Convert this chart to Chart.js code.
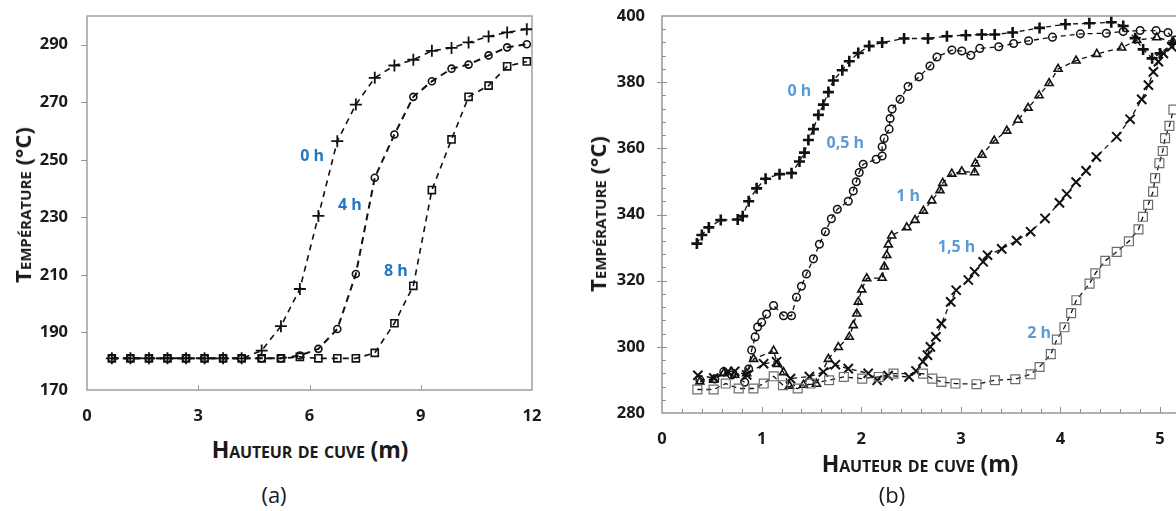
<!DOCTYPE html>
<html>
<head>
<meta charset="utf-8">
<script src="https://cdn.jsdelivr.net/npm/chart.js@4.4.1/dist/chart.umd.min.js"></script>
<style>
  html, body { margin: 0; padding: 0; background: #fff; width: 1176px; height: 511px; overflow: hidden; }
  body { position: relative; font-family: 'Open Sans', sans-serif; color: #1a1a1a; }
  canvas { position: absolute; top: 0; }
  #chartA { left: 0; }
  #chartB { left: 600px; }
  .ttl { position: absolute; font-weight: bold; font-size: 22px; font-variant: small-caps; white-space: nowrap; transform: translate(-50%, -50%); }
  .ttl.xt { font-size: 23px; letter-spacing: -0.2px; }
  .ttl .n { font-variant: normal; }
  .ttl.rot { transform: translate(-50%, -50%) rotate(-90deg); }
  .cap { position: absolute; font-size: 22px; transform: translate(-50%, -50%); }
</style>
</head>
<body>
<canvas id="chartA" width="560" height="430"></canvas>
<canvas id="chartB" width="600" height="450"></canvas>

<div class="ttl rot" style="left:22px; top:205px;">Température (°C)</div>
<div class="ttl xt" style="left:310px; top:449px;">Hauteur de cuve <span class="n">(m)</span></div>
<div class="ttl rot" style="left:597px; top:214px;">Température (°C)</div>
<div class="ttl xt" style="left:920px; top:463px;">Hauteur de cuve <span class="n">(m)</span></div>
<div class="cap" style="left:274px; top:494px;">(a)</div>
<div class="cap" style="left:892px; top:494px;">(b)</div>

<script>
// ---- chart (a) data ----
const hauteurA = [0.67, 1.17, 1.67, 2.17, 2.67, 3.17, 3.67, 4.17, 4.71, 5.23, 5.74, 6.24, 6.75, 7.25, 7.76, 8.29, 8.80, 9.30, 9.83, 10.29, 10.83, 11.33, 11.86];
const temp0hA = [181, 181, 181, 181, 181, 181, 181, 181, 183.7, 192.2, 205.1, 230.5, 256.5, 269.2, 278.5, 282.8, 284.8, 287.9, 288.9, 290.8, 292.9, 294.3, 295.4];
const temp4hA = [181, 181, 181, 181, 181, 181, 181, 181, 181, 181, 182, 184.3, 191.2, 210.3, 243.8, 258.8, 271.9, 277.3, 281.7, 283.1, 286.3, 289.1, 290.2];
const temp8hA = [181, 181, 181, 181, 181, 181, 181, 181, 181, 181, 181.5, 181, 181, 181, 182.9, 193.2, 206.2, 239.5, 257.1, 271.9, 275.8, 282.5, 284.2];
const xTicksA = [0, 3, 6, 9, 12];
const yTicksA = [170, 190, 210, 230, 250, 270, 290];

// ---- chart (b) data ----
const h0hB = [0.35, 0.40, 0.47, 0.59, 0.76, 0.81, 0.87, 0.95, 1.04, 1.18, 1.30, 1.38, 1.43, 1.47, 1.52, 1.57, 1.62, 1.67, 1.72, 1.81, 1.88, 1.97, 2.08, 2.21, 2.43, 2.67, 2.86, 3.05, 3.21, 3.34, 3.52, 3.79, 4.05, 4.29, 4.51, 4.63, 4.75, 4.83, 4.92, 5.00, 5.13];
const t0hB = [331.2, 333.8, 336.1, 338.3, 338.5, 339.5, 344, 347.9, 350.8, 352.2, 352.5, 356, 358.7, 362.5, 365.8, 370.1, 373.2, 377, 380.5, 383.6, 386.3, 388.8, 390.9, 392, 393.2, 393.2, 393.9, 394.2, 394.4, 394.4, 395, 396.4, 397.5, 397.8, 398.1, 397, 393.3, 389.9, 387.2, 388.7, 391.8];

const h05hB = [0.38, 0.53, 0.62, 0.70, 0.83, 0.87, 0.90, 0.935, 0.96, 1.00, 1.05, 1.12, 1.22, 1.30, 1.35, 1.40, 1.45, 1.52, 1.58, 1.64, 1.70, 1.76, 1.87, 1.92, 1.95, 1.98, 2.02, 2.15, 2.21, 2.21, 2.23, 2.28, 2.29, 2.31, 2.39, 2.47, 2.58, 2.69, 2.76, 2.91, 3.01, 3.10, 3.19, 3.38, 3.53, 3.68, 3.92, 4.20, 4.46, 4.63, 4.80, 4.96, 5.08, 5.15];
const t05hB = [290, 290.3, 292.5, 291.5, 289.3, 293.3, 299, 303, 306, 307.4, 309.9, 312.5, 309.4, 309.4, 315, 318.3, 322, 326.6, 331, 334.8, 338.7, 341.6, 344, 347.1, 349.9, 352.7, 355.2, 356.7, 357.7, 360.5, 363, 365.8, 369, 371.9, 374.8, 378.7, 381.6, 384.9, 387.6, 389.7, 389.4, 388.1, 390.2, 390.7, 391.7, 392.5, 393.6, 394.6, 394.8, 395.3, 395.6, 395.6, 395, 392.7];

const h1hB = [0.38, 0.52, 0.62, 0.73, 0.85, 0.92, 1.12, 1.16, 1.22, 1.28, 1.42, 1.55, 1.67, 1.77, 1.88, 1.92, 1.955, 1.97, 2.005, 2.055, 2.21, 2.232, 2.256, 2.272, 2.306, 2.457, 2.54, 2.624, 2.708, 2.79, 2.818, 2.909, 3.009, 3.138, 3.146, 3.212, 3.335, 3.461, 3.574, 3.675, 3.785, 3.886, 3.976, 4.157, 4.364, 4.615, 4.766, 4.967, 5.13];
const t1hB = [289.5, 290, 292, 291.5, 292, 296.3, 298.8, 294.8, 292.3, 288.2, 288.5, 288.8, 296.3, 299.9, 303, 306.5, 310, 313.6, 317.3, 320.7, 320.8, 324.2, 327.7, 330.9, 333.6, 336.1, 338.3, 341.1, 344.2, 347.3, 349.5, 352.3, 353, 352.7, 355.4, 358, 362.3, 365.3, 368.6, 372.2, 376, 379.7, 384, 386.5, 388.5, 390.4, 392.7, 393.5, 392.2];

const h15hB = [0.36, 0.52, 0.66, 0.73, 0.85, 1.02, 1.15, 1.29, 1.48, 1.62, 1.74, 1.87, 2.07, 2.16, 2.27, 2.48, 2.55, 2.62, 2.665, 2.694, 2.75, 2.805, 2.898, 2.953, 3.075, 3.138, 3.224, 3.268, 3.41, 3.56, 3.70, 3.845, 3.99, 4.063, 4.157, 4.257, 4.36, 4.565, 4.699, 4.816, 4.883, 4.933, 4.983, 5.033, 5.117];
const t15hB = [291.4, 290.6, 292.5, 292.6, 291.5, 294.9, 295.5, 290.4, 291, 292.4, 294.6, 293.4, 292, 289.9, 291.3, 290.9, 292.7, 295.5, 297.5, 300, 303, 307, 313.6, 317.1, 320.2, 322.7, 325.7, 327.7, 329.6, 332.1, 334.8, 338.8, 343.5, 346.2, 349.8, 353.2, 357.4, 363.5, 368.8, 374.8, 379.1, 383.1, 386.2, 388.7, 390.7];

const h2hB = [0.355, 0.518, 0.64, 0.77, 0.918, 1.021, 1.121, 1.214, 1.362, 1.491, 1.677, 1.825, 2.01, 2.176, 2.324, 2.62, 2.713, 2.805, 2.946, 3.157, 3.342, 3.546, 3.70, 3.79, 3.903, 3.964, 4.04, 4.107, 4.16, 4.292, 4.35, 4.45, 4.565, 4.687, 4.783, 4.828, 4.88, 4.93, 4.95, 4.993, 5.027, 5.05, 5.094, 5.134];
const t2hB = [287.1, 287.1, 288.9, 287.4, 287.4, 288.9, 291.1, 288.4, 287.4, 288.9, 289.9, 290.9, 290.4, 290.9, 291.9, 291.9, 290.4, 289.4, 288.9, 288.7, 289.9, 290.2, 291.7, 293.9, 297.8, 302.2, 305.9, 310.2, 314.1, 319.1, 322.2, 326, 328.7, 331.9, 335.5, 339.3, 342.9, 346.9, 351, 355.5, 359.2, 363.1, 366.8, 371.7];

const xTicksB = [0, 1, 2, 3, 4, 5];
const yTicksB = [280, 300, 320, 340, 360, 380, 400];

function pairs(xs, ys) {
    return xs.map((v, i) => ({ x: v, y: ys[i] }));
}

function range(from, to, step) {
    const out = [];
    for (let v = from; v <= to + 1e-9; v += step) out.push(Math.round(v * 100) / 100);
    return out;
}

// frame box + small tick marks, drawn through the scales
const framePlugin = {
    id: 'frame',
    beforeDatasetsDraw(chart, args, o) {
        const { ctx, chartArea: a, scales: { x, y } } = chart;
        ctx.save();
        ctx.strokeStyle = o.color;
        ctx.lineWidth = 1.4;
        ctx.strokeRect(a.left, a.top, a.right - a.left, a.bottom - a.top);
        ctx.lineWidth = 1;
        ctx.beginPath();
        (o.xMinor || []).forEach(v => {
            const px = Math.round(x.getPixelForValue(v)) + 0.5;
            ctx.moveTo(px, a.bottom); ctx.lineTo(px, a.bottom - o.minorLen);
        });
        (o.xMajor || []).forEach(v => {
            const px = Math.round(x.getPixelForValue(v)) + 0.5;
            ctx.moveTo(px, a.bottom); ctx.lineTo(px, a.bottom - o.majorLen);
        });
        (o.yMinor || []).forEach(v => {
            const py = Math.round(y.getPixelForValue(v)) + 0.5;
            ctx.moveTo(a.left, py); ctx.lineTo(a.left + o.minorLen, py);
        });
        (o.yMajor || []).forEach(v => {
            const py = Math.round(y.getPixelForValue(v)) + 0.5;
            ctx.moveTo(a.left - (o.yOut || 0), py); ctx.lineTo(a.left + (o.yIn || 0), py);
        });
        ctx.stroke();
        ctx.restore();
    }
};

// the blue "0 h", "4 h"... labels next to the curves
const curveLabels = {
    id: 'curveLabels',
    afterDatasetsDraw(chart, args, o) {
        const { ctx, scales: { x, y } } = chart;
        ctx.save();
        ctx.font = 'bold 16px "Open Sans"';
        ctx.fillStyle = o.color;
        ctx.textAlign = 'center';
        ctx.textBaseline = 'middle';
        o.items.forEach(it => ctx.fillText(it.text, x.getPixelForValue(it.x), y.getPixelForValue(it.y)));
        ctx.restore();
    }
};

const tickFont = { family: 'Open Sans', size: 16.5, weight: 'bold' };

function axis(min, max, values, size, isX, pad) {
    return {
        type: 'linear',
        min: min,
        max: max,
        afterBuildTicks: s => { s.ticks = values.map(v => ({ value: v })); },
        afterFit: s => {
            if (isX) s.height = size; else s.width = size;
            // keep the plot box where the layout padding puts it
            s.paddingTop = 0; s.paddingBottom = 0; s.paddingLeft = 0; s.paddingRight = 0;
        },
        grid: { display: false, drawTicks: false },
        border: { display: false },
        ticks: { font: tickFont, color: '#1a1a1a', padding: pad, autoSkip: false, maxRotation: 0 }
    };
}

function line(data, style, radius, width, color, dash, lw) {
    return {
        data: data,
        showLine: true,
        borderColor: '#111',
        borderWidth: lw,
        borderDash: dash,
        pointStyle: style,
        pointRadius: radius,
        pointBorderWidth: width,
        pointBorderColor: color || '#111',
        pointBackgroundColor: 'transparent'
    };
}

Chart.defaults.font.family = 'Open Sans';

new Chart(document.getElementById('chartA'), {
    type: 'scatter',
    data: {
        datasets: [
            line(pairs(hauteurA, temp8hA), 'rect', 5, 1.6, null, [6, 5], 1.6),
            line(pairs(hauteurA, temp4hA), 'circle', 3.5, 1.6, null, [7, 5], 2),
            line(pairs(hauteurA, temp0hA), 'cross', 6, 1.8, null, [6, 5], 1.6)
        ]
    },
    options: {
        responsive: false,
        animation: false,
        events: [],
        layout: { padding: { top: 16, right: 28, left: 0, bottom: 0 } },
        scales: {
            x: axis(0, 12, xTicksA, 40, true, 16),
            y: axis(170, 300, yTicksA, 87, false, 19)
        },
        plugins: {
            legend: { display: false },
            tooltip: { enabled: false },
            frame: { color: '#9a9a9a', xMajor: [3, 6, 9], yMajor: [190, 210, 230, 250, 270, 290], majorLen: 5, minorLen: 0, yOut: 6, yIn: 0 },
            curveLabels: {
                color: '#2277C4',
                items: [
                    { text: '0 h', x: 6.07, y: 251.3 },
                    { text: '4 h', x: 7.09, y: 234 },
                    { text: '8 h', x: 8.33, y: 211.2 }
                ]
            }
        }
    },
    plugins: [framePlugin, curveLabels]
});

new Chart(document.getElementById('chartB'), {
    type: 'scatter',
    data: {
        datasets: [
            line(pairs(h2hB, t2hB), 'rect', 6.3, 1.2, '#6e6e6e', [5, 4], 1.3),
            line(pairs(h15hB, t15hB), 'crossRot', 6.5, 2, null, [5, 4], 1.3),
            line(pairs(h1hB, t1hB), 'triangle', 4.6, 1.6, null, [5, 4], 1.3),
            line(pairs(h05hB, t05hB), 'circle', 3.8, 1.5, null, [5, 4], 1.3),
            line(pairs(h0hB, t0hB), 'cross', 5.5, 2.6, null, [5, 4], 1.3)
        ]
    },
    options: {
        responsive: false,
        animation: false,
        events: [],
        layout: { padding: { top: 16, right: 20, left: 0, bottom: 0 } },
        scales: {
            x: axis(0, 5.2, xTicksB, 37, true, 16),
            y: axis(280, 400, yTicksB, 62, false, 17)
        },
        plugins: {
            legend: { display: false },
            tooltip: { enabled: false },
            frame: {
                color: '#8f8f8f',
                xMajor: [1, 2, 3, 4, 5], xMinor: range(0.2, 5.2, 0.2),
                yMajor: [300, 320, 340, 360, 380], yMinor: range(284, 396, 4),
                majorLen: 6, minorLen: 4, yOut: 5, yIn: 5
            },
            curveLabels: {
                color: '#5B9BD5',
                items: [
                    { text: '0 h', x: 1.38, y: 377.3 },
                    { text: '0,5 h', x: 1.84, y: 361.5 },
                    { text: '1 h', x: 2.47, y: 345.6 },
                    { text: '1,5 h', x: 2.957, y: 329.9 },
                    { text: '2 h', x: 3.786, y: 304 }
                ]
            }
        }
    },
    plugins: [framePlugin, curveLabels]
});
</script>
</body>
</html>
